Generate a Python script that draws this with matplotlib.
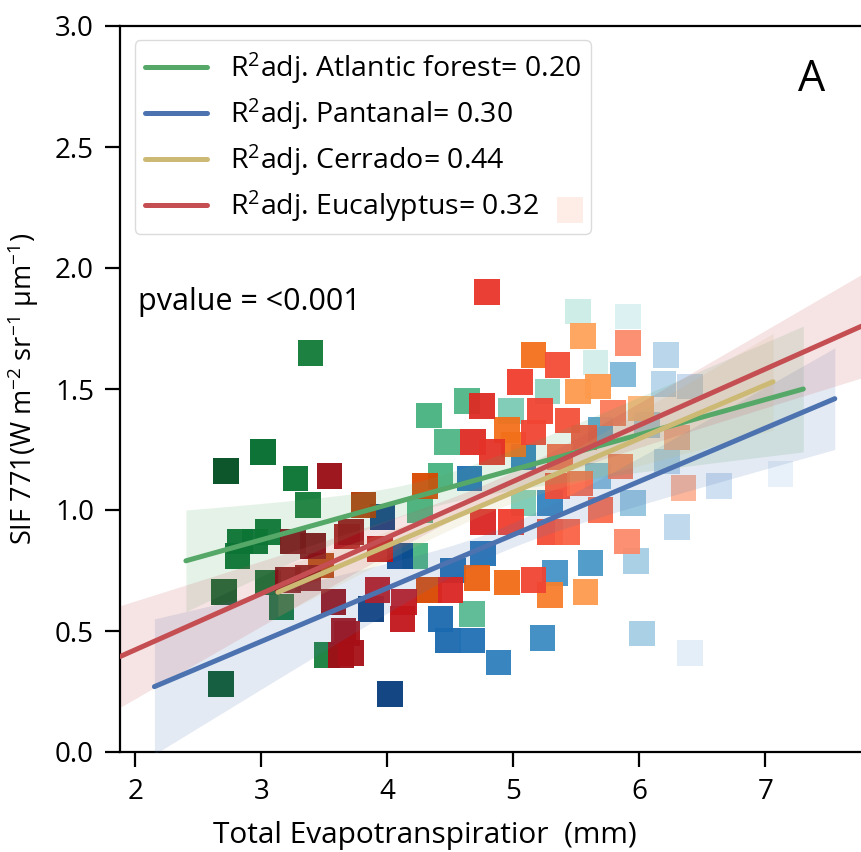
import matplotlib
matplotlib.use("Agg")
import matplotlib.pyplot as plt
import numpy as np


FONT = "Open Sans"
plt.rcParams["font.family"] = [FONT, "DejaVu Sans"]
plt.rcParams["mathtext.fontset"] = "custom"
plt.rcParams["mathtext.rm"] = FONT
plt.rcParams["mathtext.it"] = FONT + ":italic"
plt.rcParams["mathtext.bf"] = FONT + ":bold"

XLIM = (1.88, 7.85)
YLIM = (0.0, 3.0)

# --- monthly points per biome: ET (mm), SIF, colour shade (1 = darkest) ---
atl_x = [3.39, 2.72, 3.01, 3.27, 3.37, 2.83, 2.81, 2.95, 3.05, 2.70, 3.05, 3.16,
         3.52, 2.68, 4.33, 4.63, 4.47, 4.42, 4.26, 4.22, 4.67, 4.98, 5.08, 5.27,
         5.51, 5.91, 5.65]
atl_y = [1.65, 1.16, 1.24, 1.13, 1.02, 0.87, 0.81, 0.87, 0.91, 0.66, 0.70, 0.60,
         0.40, 0.28, 1.39, 1.45, 1.28, 1.14, 1.00, 0.81, 0.57, 1.41, 1.03, 1.49,
         1.82, 1.80, 1.61]
atl_shade = [0.82, 0.97, 0.88, 0.85, 0.82, 0.88, 0.88, 0.88, 0.87, 0.93, 0.88, 0.85,
             0.80, 0.95, 0.60, 0.58, 0.58, 0.60, 0.60, 0.60, 0.55, 0.45, 0.45, 0.40,
             0.25, 0.18, 0.22]

pan_x = [3.96, 4.10, 3.87, 4.02, 4.65, 4.76, 4.52, 4.42, 4.48, 4.67, 4.88, 5.08,
         5.29, 5.33, 5.61, 5.23, 5.69, 5.67, 5.95, 5.97, 6.02, 6.06, 5.87, 6.21,
         6.19, 6.22, 6.30, 6.63, 7.12, 6.40, 6.40]
pan_y = [0.97, 0.81, 0.59, 0.24, 1.13, 0.82, 0.75, 0.55, 0.46, 0.46, 0.37, 1.22,
         1.03, 0.74, 0.78, 0.47, 1.33, 1.14, 1.03, 0.79, 0.49, 1.35, 1.56, 1.64,
         1.52, 1.20, 0.93, 1.10, 1.15, 0.41, 1.51]
pan_shade = [0.95, 0.90, 0.95, 0.95, 0.75, 0.75, 0.78, 0.78, 0.78, 0.75, 0.70, 0.70,
             0.68, 0.62, 0.60, 0.65, 0.55, 0.45, 0.40, 0.35, 0.35, 0.35, 0.45, 0.30,
             0.30, 0.28, 0.28, 0.22, 0.08, 0.10, 0.25]

cer_x = [3.81, 4.30, 4.33, 3.47, 4.71, 4.95, 5.16, 4.95, 5.51, 5.67, 5.55, 6.01,
         5.29, 5.57, 5.00]
cer_y = [1.02, 1.10, 0.67, 0.77, 0.72, 0.70, 1.64, 1.33, 1.49, 1.51, 1.72, 1.42,
         0.65, 0.66, 1.27]
cer_shade = [0.85, 0.75, 0.75, 0.85, 0.65, 0.62, 0.60, 0.60, 0.45, 0.45, 0.42, 0.35,
             0.55, 0.45, 0.60]

euc_x = [3.54, 3.25, 3.41, 3.68, 3.21, 3.37, 3.57, 3.65, 3.63, 3.71, 3.94, 3.92,
         4.13, 4.12, 3.68, 3.71, 4.79, 4.75, 4.68, 4.83, 5.05, 4.76, 4.50, 5.35,
         5.21, 5.43, 5.16, 5.56, 5.37, 5.35, 4.98, 5.29, 5.16, 5.79, 5.85, 5.53,
         5.69, 5.90, 5.43, 5.91, 6.30, 6.35, 5.45]
euc_y = [1.14, 0.87, 0.85, 0.89, 0.71, 0.72, 0.62, 0.50, 0.40, 0.91, 0.84, 0.67,
         0.62, 0.55, 0.49, 0.41, 1.90, 1.43, 1.28, 1.24, 1.53, 0.95, 0.67, 1.60,
         1.41, 1.37, 1.32, 1.30, 1.22, 1.10, 0.95, 0.91, 0.71, 1.40, 1.18, 1.11,
         1.00, 0.87, 0.91, 1.69, 1.30, 1.09, 2.24]
euc_shade = [0.90, 0.95, 0.95, 0.85, 0.95, 0.95, 0.90, 0.88, 0.88, 0.90, 0.80, 0.80,
             0.78, 0.78, 0.87, 0.87, 0.65, 0.68, 0.68, 0.66, 0.62, 0.70, 0.70, 0.58,
             0.60, 0.57, 0.60, 0.56, 0.50, 0.58, 0.62, 0.58, 0.60, 0.45, 0.45, 0.50,
             0.50, 0.40, 0.52, 0.40, 0.30, 0.28, 0.26]

# --- fitted lines: x range, y at both ends, CI half-width (left, centre, right) ---
names = ["Atlantic forest", "Pantanal", "Cerrado", "Eucalyptus"]
r2_adj = [0.20, 0.30, 0.44, 0.32]
line_colors = ["#55A868", "#4C72B0", "#CCB974", "#C44E52"]
cmaps = ["BuGn", "Blues", "Oranges", "Reds"]
fit_x = [(2.40, 7.30), (2.15, 7.55), (3.13, 7.06), XLIM]
fit_y = [(0.79, 1.50), (0.27, 1.46), (0.66, 1.53), (0.395, 1.78)]
ci_half = [(0.21, 0.06, 0.26), (0.28, 0.05, 0.21), (0.10, 0.04, 0.20), (0.21, 0.04, 0.22)]
ci_center = [4.3, 4.9, 4.8, 4.85]

groups = [
    (atl_x, atl_y, atl_shade),
    (pan_x, pan_y, pan_shade),
    (cer_x, cer_y, cer_shade),
    (euc_x, euc_y, euc_shade),
]


def ci_band(xs, x0, x1, xc, hl, hc, hr):
    # hyperbolic confidence band, narrowest at xc
    kl = (hl ** 2 - hc ** 2) / max((x0 - xc) ** 2, 1e-9)
    kr = (hr ** 2 - hc ** 2) / max((x1 - xc) ** 2, 1e-9)
    k = np.where(xs < xc, kl, kr)
    return np.sqrt(hc ** 2 + k * (xs - xc) ** 2)


fig = plt.figure(figsize=(8.61, 8.52), dpi=100)
px_per_x = 126
ax_left = 135.5 - (2 - XLIM[0]) * px_per_x
ax_w = (XLIM[1] - XLIM[0]) * px_per_x
ax = fig.add_axes([ax_left / 861, 100 / 852, ax_w / 861, 726 / 852])

for (gx, gy, gs), cmap in zip(groups, cmaps):
    cm = plt.get_cmap(cmap)
    ax.scatter(gx, gy, s=340, marker="s", c=[cm(v) for v in gs],
               edgecolors="none", alpha=0.95, zorder=2)

for i, name in enumerate(names):
    x0, x1 = fit_x[i]
    y0, y1 = fit_y[i]
    xs = np.linspace(x0, x1, 200)
    ys = y0 + (y1 - y0) * (xs - x0) / (x1 - x0)
    hl, hc, hr = ci_half[i]
    h = ci_band(xs, x0, x1, ci_center[i], hl, hc, hr)
    ax.fill_between(xs, ys - h, ys + h, color=line_colors[i], alpha=0.15,
                    linewidth=0, zorder=3)
    ax.plot(xs, ys, color=line_colors[i], lw=3.6, solid_capstyle="round",
            zorder=4, label=f"R$^2$adj. {name}= {r2_adj[i]:.2f}")

ax.set_xlim(*XLIM)
ax.set_ylim(*YLIM)
ax.set_xticks([2, 3, 4, 5, 6, 7])
ax.set_yticks([0.0, 0.5, 1.0, 1.5, 2.0, 2.5, 3.0])
ax.yaxis.set_major_formatter(matplotlib.ticker.FormatStrFormatter("%.1f"))
ax.tick_params(labelsize=20, length=11, width=1.6, direction="out", pad=8)
for side in ["left", "bottom", "top", "right"]:
    ax.spines[side].set_linewidth(1.6)

ax.set_xlabel("Total Evapotranspiratior  (mm)", fontsize=21.5)
ax.xaxis.set_label_coords((425 - ax_left) / ax_w, -0.095)
ax.set_ylabel("SIF 771(W m$^{-2}$ sr$^{-1}$ μm$^{-1}$)", fontsize=19.5)
ax.yaxis.set_label_coords(-0.106, 0.5)

ax.text(2.02, 1.86, "pvalue = <0.001", fontsize=22, va="center", ha="left")
ax.text(7.37, 2.776, "A", fontsize=31, va="center", ha="center")

leg = ax.legend(loc="upper left", fontsize=20.5, handlelength=2.2, handletextpad=0.8,
                labelspacing=0.37, borderaxespad=0.5, borderpad=0.35,
                framealpha=0.75, edgecolor="#d0d0d0", fancybox=True)
leg.set_zorder(5)

fig.savefig("out.png", dpi=100)
